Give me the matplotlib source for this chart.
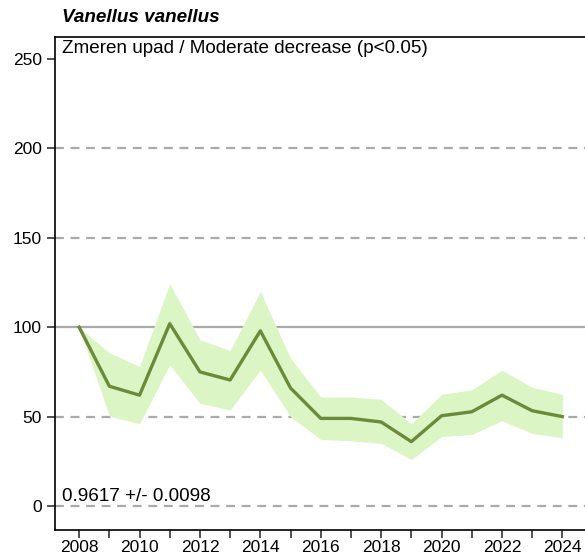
import matplotlib
matplotlib.use('Agg')
import matplotlib.pyplot as plt

plt.rcParams['font.family'] = ['Liberation Sans', 'DejaVu Sans']

years = list(range(2008, 2025))
index = [100, 67, 62, 102, 75, 70.5, 98, 66, 49, 49, 47, 36, 50.5, 52.7, 62, 53.3, 50]
upper = [100, 85.7, 78, 124.5, 93, 87, 120, 82.6, 61, 61, 59.7, 46, 62.5, 65, 76, 66.4, 62.5]
lower = [100, 50.3, 46, 79, 57.4, 53.7, 76, 50, 37.2, 36.5, 35, 26, 38.8, 40, 47.7, 40.6, 38.2]

species = 'Vanellus vanellus'
trend_text = 'Zmeren upad / Moderate decrease (p<0.05)'
slope_text = '0.9617 +/- 0.0098'

fig = plt.figure(figsize=(5.85, 5.57), dpi=100)
ax = fig.add_axes([0.094, 0.0485, 0.906, 0.885])

# reference lines
for v in [0, 50, 150, 200]:
    ax.axhline(v, color='#aaaaaa', lw=1.6, ls=(0, (4, 3)), zorder=1)
ax.axhline(100, color='#aaaaaa', lw=1.6, zorder=1)

ax.fill_between(years, lower, upper, color='#dcf5c4', lw=0, zorder=2)
ax.plot(years, index, color='#6b8a3a', lw=2.4, zorder=3)

ax.set_xlim(2007.2, 2024.75)
ax.set_ylim(-13.4, 262.3)
ax.set_yticks([0, 50, 100, 150, 200, 250])
ax.set_xticks(years)
ax.set_xticklabels([str(y) if y % 2 == 0 else '' for y in years])
ax.tick_params(axis='both', length=6, width=1.2, labelsize=12.5, color='#333333')
ax.tick_params(axis='x', pad=1.5)
ax.spines['right'].set_visible(False)
for s in ['left', 'bottom', 'top']:
    ax.spines[s].set_linewidth(1.2)

fig.text(62 / 585, 1 - 18 / 557, species, fontsize=13.6, fontweight='bold',
         fontstyle='italic', va='center', ha='left')
ax.text(7 / 530, 1 - 3 / 493, trend_text, transform=ax.transAxes,
        fontsize=13.6, va='top', ha='left')
ax.text(7 / 530, (530 - 501) / 493, slope_text, transform=ax.transAxes,
        fontsize=13.6, va='baseline', ha='left')

fig.savefig('out.png', dpi=100)
